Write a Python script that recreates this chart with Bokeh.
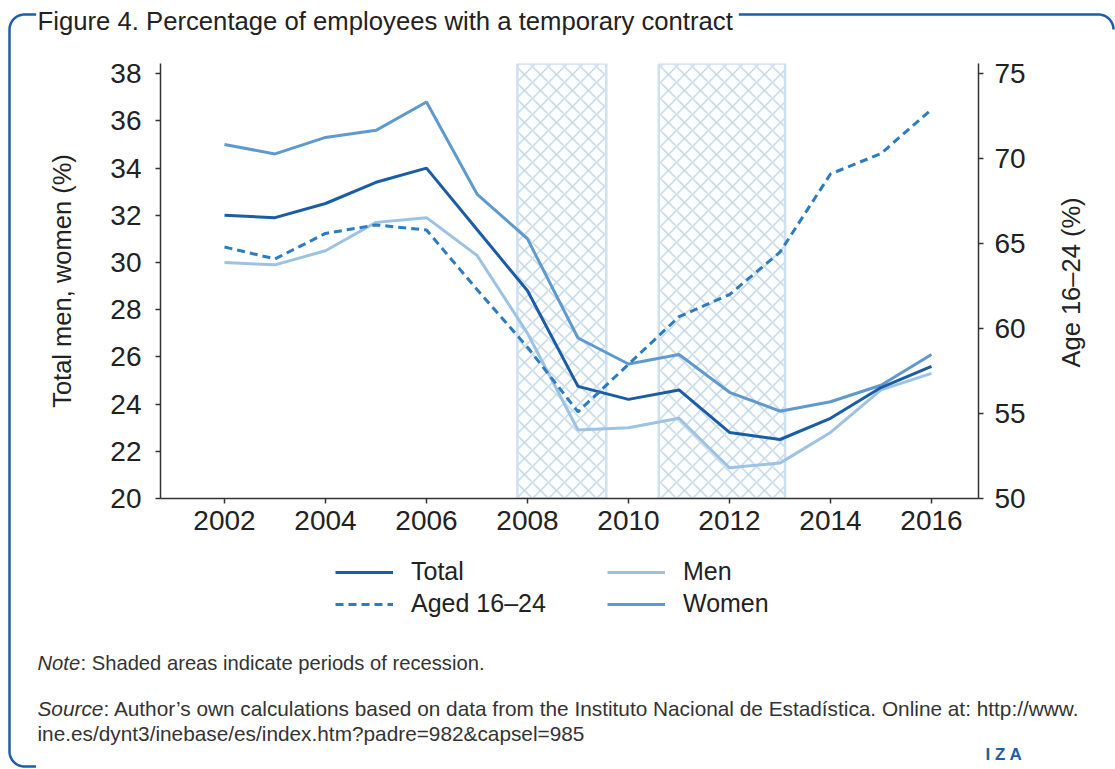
import math
import numpy as np
from bokeh.plotting import figure
from bokeh.layouts import row, column
from bokeh.models import (Range1d, LinearAxis, FixedTicker, Label, Legend,
                          LegendItem)
from bokeh.embed import file_html
from bokeh.resources import INLINE

# ---------------- data ----------------
years = [2002, 2003, 2004, 2005, 2006, 2007, 2008, 2009, 2010, 2011, 2012, 2013, 2014, 2015, 2016]
total = [32.0, 31.9, 32.5, 33.4, 34.0, 31.4, 28.8, 24.75, 24.2, 24.6, 22.8, 22.5, 23.4, 24.7, 25.6]
men = [30.0, 29.9, 30.5, 31.7, 31.9, 30.3, 27.0, 22.9, 23.0, 23.4, 21.3, 21.5, 22.8, 24.6, 25.3]
women = [35.0, 34.6, 35.3, 35.6, 36.8, 32.9, 31.0, 26.8, 25.7, 26.1, 24.5, 23.7, 24.1, 24.8, 26.1]
aged_16_24 = [64.8, 64.1, 65.6, 66.1, 65.8, 62.3, 58.9, 55.1, 57.9, 60.7, 62.0, 64.5, 69.1, 70.3, 72.9]

recession_start = [2007.80, 2010.60]
recession_end = [2009.56, 2013.10]

left_ticks = [20, 22, 24, 26, 28, 30, 32, 34, 36, 38]
right_ticks = [50, 55, 60, 65, 70, 75]
x_ticks = [2002, 2004, 2006, 2008, 2010, 2012, 2014, 2016]

title_text = "Figure 4. Percentage of employees with a temporary contract"
left_label = "Total men, women (%)"
right_label = "Age 16\u201324 (%)"
note_text = ": Shaded areas indicate periods of recession."
source_text1 = (": Author\u2019s own calculations based on data from the Instituto Nacional "
                "de Estad\u00edstica. Online at:  http://www.")
source_text2 = "ine.es/dynt3/inebase/es/index.htm?padre=982&capsel=985"

FONT = "Liberation Sans"
AX_COL = "#333333"
TXT_COL = "#222222"
BORDER = "#1d5ea8"
C_TOTAL = "#1a5ca6"
C_AGED = "#2b7cc1"
C_MEN = "#9dc3e4"
C_WOMEN = "#5e99cf"

PAGE_W, PAGE_H = 1115, 769
LB = 36                      # width of the left border strip
CW = PAGE_W - LB             # width of the content column
RS = 1040                    # page x where the right-label strip starts
HEAD_H = 50
MAIN_TOP, MAIN_BOT = 50, 550
LEG_BOT = 640


def blank(w, h, x0, x1, y0, y1):
    """figure whose frame is the whole canvas, data units = page pixels"""
    f = figure(width=w, height=h, output_backend="svg", toolbar_location=None,
               x_range=Range1d(x0, x1), y_range=Range1d(y1, y0),
               x_axis_location=None, y_axis_location=None,
               min_border=0, min_border_left=0, min_border_right=0,
               min_border_top=0, min_border_bottom=0, frame_align=False)
    f.outline_line_color = None
    f.grid.visible = False
    f.background_fill_color = "white"
    f.border_fill_color = "white"
    return f


def arc(cx, cy, r, a0, a1, n=14):
    t = np.linspace(a0, a1, n)
    return list(cx + r * np.cos(t)), list(cy + r * np.sin(t))


def lab(f, x, y, text, size, **kw):
    l = Label(x=x, y=y, text=text, text_font=FONT, text_font_size=size,
              text_color=kw.pop("color", TXT_COL),
              text_baseline=kw.pop("baseline", "middle"), **kw)
    f.add_layout(l)
    return l


# ---------------- left border strip ----------------
strip = blank(LB, PAGE_H, 0, LB, 0, PAGE_H)
R = 15
sx, sy = [LB], [14]
ax_, ay_ = arc(24, 29, R, -math.pi / 2, -math.pi)
sx += ax_; sy += ay_
ax_, ay_ = arc(24, 751, R, math.pi, math.pi / 2)
sx += ax_; sy += ay_
sx += [LB]; sy += [766]
strip.line(sx, sy, line_color=BORDER, line_width=2.5)

# ---------------- head (title + top border) ----------------
head = blank(CW, HEAD_H, LB, PAGE_W, 0, HEAD_H)
hx, hy = [LB], [14]
ax_, ay_ = arc(1098, 29, 15, -math.pi / 2, 0)
hx += ax_; hy += ay_
head.line(hx, hy, line_color=BORDER, line_width=2.5)
lab(head, 31, 20, title_text, "25.7px", background_fill_color="white",
    padding=6)

# ---------------- main chart ----------------
PX0, PXS = 224.0, 50.5      # page x of 2002, px per year
PY0, PYS = 498.0, 23.6      # page y of 20 %, px per unit


def DX(px):
    return 2002 + (px - PX0) / PXS


def DY(py):
    return 20 + (PY0 - py) / PYS


x_start, x_end = DX(160), DX(978)
y_start, y_end = 20, DY(63)
r_start, r_end = 50, 50 + (y_end - 20) * 25 / 18

MH = MAIN_BOT - MAIN_TOP
main = figure(width=RS - LB, height=MH, output_backend="svg", toolbar_location=None,
              x_range=Range1d(x_start, x_end), y_range=Range1d(y_start, y_end),
              min_border_left=160 - LB, min_border_right=RS - 978,
              min_border_top=63 - MAIN_TOP, min_border_bottom=MAIN_BOT - 498,
              frame_align=False)
main.extra_y_ranges = {"age": Range1d(r_start, r_end)}
main.outline_line_color = None
main.grid.visible = False
main.background_fill_color = "white"
main.border_fill_color = "white"


def style_axis(ax):
    ax.axis_line_color = AX_COL
    ax.axis_line_width = 1.5
    ax.major_tick_line_color = AX_COL
    ax.major_tick_line_width = 1.5
    ax.major_tick_out = 5
    ax.major_tick_in = 0
    ax.minor_tick_line_color = None
    ax.major_label_text_font = FONT
    ax.major_label_text_font_size = "28px"
    ax.major_label_text_color = TXT_COL
    ax.axis_label_text_font = FONT
    ax.axis_label_text_font_size = "25.5px"
    ax.axis_label_text_font_style = "normal"
    ax.axis_label_text_color = TXT_COL


xa, ya = main.xaxis[0], main.yaxis[0]
style_axis(xa)
style_axis(ya)
xa.ticker = FixedTicker(ticks=x_ticks)
xa.major_label_standoff = 7
ya.ticker = FixedTicker(ticks=left_ticks)
ya.major_label_standoff = 14
ya.axis_label = left_label
ya.axis_label_standoff = 31

rax = LinearAxis(y_range_name="age", ticker=FixedTicker(ticks=right_ticks))
style_axis(rax)
rax.major_label_standoff = 11
main.add_layout(rax, "right")

main.quad(left=recession_start, right=recession_end,
          bottom=[y_start] * len(recession_start), top=[y_end] * len(recession_start),
          fill_alpha=0, line_color="#cfe0f0", line_width=2.5,
          hatch_pattern="diagonal_cross", hatch_color="#c9ddef",
          hatch_scale=16, hatch_weight=1.6)

main.line(years, men, line_color=C_MEN, line_width=3)
main.line(years, women, line_color=C_WOMEN, line_width=3)
main.line(years, total, line_color=C_TOTAL, line_width=3)
main.line(years, aged_16_24, line_color=C_AGED, line_width=3,
          line_dash="8 5", y_range_name="age")

# right axis title (reads bottom-to-top, centred on the frame)
rstrip = blank(PAGE_W - RS, MH, RS, PAGE_W, MAIN_TOP, MAIN_BOT)
lab(rstrip, 1070, 282, right_label, "25.5px", angle=math.pi / 2, text_align="center")

# ---------------- legend strip ----------------
# (the series are re-plotted here only so the legend has renderers;
#  their values lie outside this strip's ranges, so nothing shows)
LH = LEG_BOT - MAIN_BOT
legf = blank(CW, LH, LB, PAGE_W, MAIN_BOT, LEG_BOT)
g_total = legf.line(years, total, line_color=C_TOTAL, line_width=3)
g_aged = legf.line(years, aged_16_24, line_color=C_AGED, line_width=3, line_dash="8 5")
g_men = legf.line(years, men, line_color=C_MEN, line_width=3)
g_women = legf.line(years, women, line_color=C_WOMEN, line_width=3)


def make_legend(items, px, bottom_py):
    lg = Legend(items=items, location=(px - LB, LEG_BOT - bottom_py),
                orientation="vertical",
                glyph_width=58, glyph_height=26, label_height=26,
                label_standoff=18, spacing=3, padding=0, margin=0,
                border_line_alpha=0, background_fill_alpha=0,
                label_text_font=FONT, label_text_font_size="25px",
                label_text_color=TXT_COL)
    legf.add_layout(lg, "center")


make_legend([LegendItem(label="Total", renderers=[g_total]),
             LegendItem(label="Aged 16\u201324", renderers=[g_aged])], 335, 618)
make_legend([LegendItem(label="Men", renderers=[g_men]),
             LegendItem(label="Women", renderers=[g_women])], 607, 618)

# ---------------- footer ----------------
FH = PAGE_H - LEG_BOT
foot = blank(CW, FH, LB, PAGE_W, LEG_BOT, PAGE_H)
NC = "#333333"
lab(foot, 37, 662, "Note", "20.2px", text_font_style="italic", color=NC)
lab(foot, 80, 662, note_text, "20.2px", color=NC)
lab(foot, 37, 708, "Source", "20.8px", text_font_style="italic", color=NC)
lab(foot, 103, 708, source_text1, "20.8px", color=NC)
lab(foot, 37, 733, source_text2, "20.8px", color=NC)
lab(foot, 985, 754, "I Z A", "17px", color=BORDER, text_font_style="bold")

layout = row(strip,
             column(head, row(main, rstrip, spacing=0), legf, foot, spacing=0),
             spacing=0)
open("out.html", "w").write(file_html(layout, INLINE))
